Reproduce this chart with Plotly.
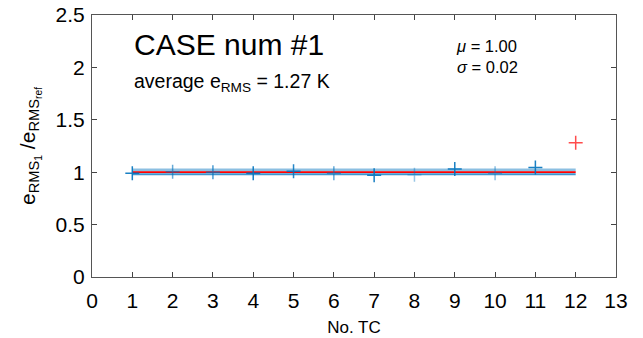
import plotly.graph_objects as go

tc = [1, 2, 3, 4, 5, 6, 7, 8, 9, 10, 11, 12]
ratio = [0.99, 1.005, 1.00, 0.99, 1.01, 0.99, 0.97, 0.975, 1.03, 0.99, 1.045, 1.28]
marker_alpha = [0.9, 0.6, 0.7, 0.9, 0.85, 0.6, 0.9, 0.4, 0.9, 0.45, 0.9, 0.7]
outlier = [False] * 11 + [True]
mu = 1.00
sigma = 0.02
avg_rms = 1.27
xticks = list(range(0, 14))
yticks = [0, 0.5, 1, 1.5, 2, 2.5]
ytick_text = ["0", "0.5", "1", "1.5", "2", "2.5"]

fig = go.Figure()
fig.add_trace(go.Scatter(x=[tc[0], tc[-1]], y=[mu + sigma] * 2, mode="lines",
                         line=dict(color="rgba(0,114,189,0.45)", width=3), showlegend=False))
fig.add_trace(go.Scatter(x=[tc[0], tc[-1]], y=[mu - sigma] * 2, mode="lines",
                         line=dict(color="rgba(0,114,189,0.75)", width=2), showlegend=False))
fig.add_trace(go.Scatter(x=[tc[0], tc[-1]], y=[mu] * 2, mode="lines",
                         line=dict(color="rgb(255,0,0)", width=1.8), showlegend=False))

colors = []
for a, o in zip(marker_alpha, outlier):
    if o:
        colors.append(f"rgba(255,0,0,{a})")
    else:
        colors.append(f"rgba(0,114,189,{a})")

fig.add_trace(go.Scatter(x=tc, y=ratio, mode="markers",
                         marker=dict(symbol="cross-thin", size=10,
                                     line=dict(color=colors, width=1.5)),
                         showlegend=False))

font = "Liberation Sans, Arial, sans-serif"
fig.update_layout(
    width=643, height=338,
    margin=dict(l=92, r=27, t=15, b=61),
    plot_bgcolor="white", paper_bgcolor="white",
    font=dict(family=font, color="black"),
    xaxis=dict(range=[0, 13], tickvals=xticks, ticks="inside", ticklen=5,
               tickcolor="#444", showline=True, linecolor="#555", linewidth=1,
               mirror="ticks", showgrid=False, zeroline=False, automargin=False,
               tickfont=dict(size=21), ticklabelstandoff=5,
               title=dict(text="No. TC", font=dict(size=17), standoff=9)),
    yaxis=dict(range=[0, 2.5], tickvals=yticks, ticktext=ytick_text,
               ticks="inside", ticklen=5,
               tickcolor="#444", showline=True, linecolor="#555", linewidth=1,
               mirror="ticks", showgrid=False, zeroline=False, automargin=False,
               tickfont=dict(size=21), ticklabelstandoff=2,
               title=dict(text="e<sub>RMS<sub>1</sub></sub> /e<sub>RMS<sub>ref</sub></sub>",
                          font=dict(size=21), standoff=14)),
)

fig.add_annotation(x=1, y=2.215, xref="x", yref="y", text="CASE num #1",
                   showarrow=False, xanchor="left", font=dict(size=30))
fig.add_annotation(x=1, y=1.86, xref="x", yref="y",
                   text=f"average e<sub>RMS</sub> = {avg_rms:.2f} K",
                   showarrow=False, xanchor="left", font=dict(size=19.5))
fig.add_annotation(x=8.98, y=2.31, xref="x", yref="y",
                   text=f"<i>μ</i> = {mu:.2f}<br><i>σ</i> = {sigma:.2f}",
                   showarrow=False, xanchor="left", align="left", yanchor="top",
                   font=dict(size=16.5))

fig.write_html("out.html")
